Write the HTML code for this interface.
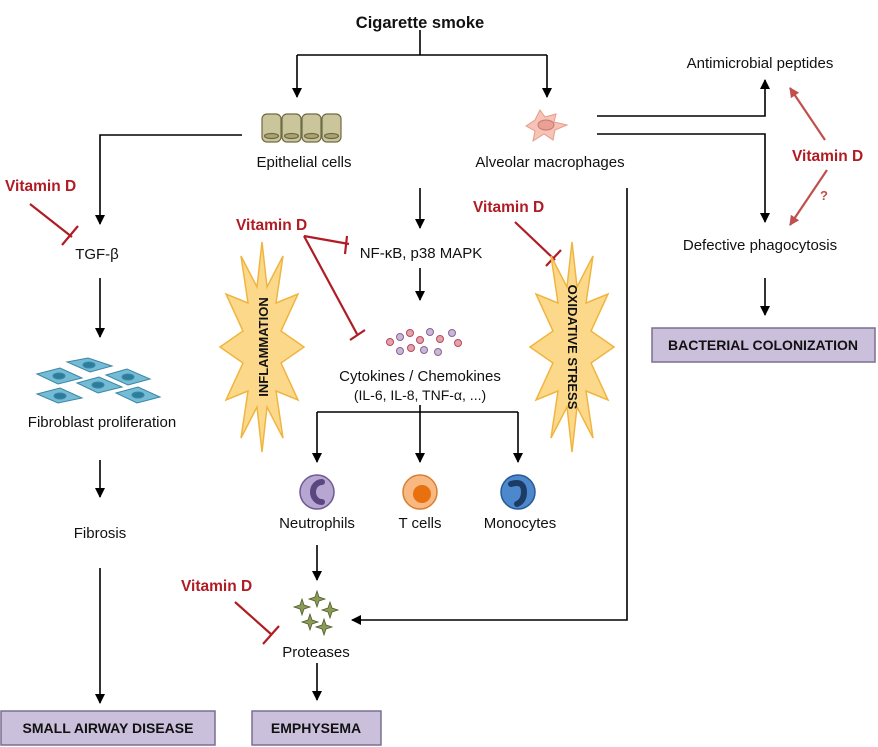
<!DOCTYPE html>
<html><head><meta charset="utf-8"><style>
html,body{margin:0;padding:0;background:#fff;}
svg{display:block;font-family:"Liberation Sans",sans-serif;}
.t{font-size:15px;fill:#111;text-anchor:middle;}
.v{font-size:15.5px;font-weight:bold;fill:#b01c24;}
.b{font-size:14px;font-weight:bold;fill:#111;text-anchor:middle;}
</style></head><body>
<svg width="878" height="747" viewBox="0 0 878 747" xmlns="http://www.w3.org/2000/svg">
<defs>
<marker id="a" markerWidth="10" markerHeight="10" refX="9" refY="5" orient="auto" markerUnits="userSpaceOnUse"><path d="M0,0 L10,5 L0,10 z" fill="#000"/></marker>
<marker id="r" markerWidth="10" markerHeight="10" refX="9" refY="5" orient="auto" markerUnits="userSpaceOnUse"><path d="M0,0 L10,5 L0,10 z" fill="#c0504d"/></marker>
<polygon id="burst" points="262,242 267,287 283,256 276,303 298,294 281,331 304,347 281,363 298,400 276,391 283,438 267,407 262,452 257,407 241,438 248,391 226,400 243,363 220,347 243,331 226,294 248,303 241,256 257,287" fill="#fcd98a" stroke="#f0b541" stroke-width="1.5"/>
</defs>
<g stroke="#000" stroke-width="1.6" fill="none">
<path d="M420,30 V55 M297,55 H547"/>
<path d="M297,55 V97" marker-end="url(#a)"/>
<path d="M547,55 V97" marker-end="url(#a)"/>
<path d="M242,135 H100 V224" marker-end="url(#a)"/>
<path d="M100,278 V337" marker-end="url(#a)"/>
<path d="M100,460 V497" marker-end="url(#a)"/>
<path d="M100,568 V703" marker-end="url(#a)"/>
<path d="M420,188 V228" marker-end="url(#a)"/>
<path d="M420,268 V300" marker-end="url(#a)"/>
<path d="M317,412 H518"/>
<path d="M317,412 V462" marker-end="url(#a)"/>
<path d="M420,405 V462" marker-end="url(#a)"/>
<path d="M518,412 V462" marker-end="url(#a)"/>
<path d="M317,545 V580" marker-end="url(#a)"/>
<path d="M317,663 V700" marker-end="url(#a)"/>
<path d="M627,188 V620 H352" marker-end="url(#a)"/>
<path d="M597,116 H765 V80" marker-end="url(#a)"/>
<path d="M597,134 H765 V222" marker-end="url(#a)"/>
<path d="M765,278 V315" marker-end="url(#a)"/>
</g>
<g stroke="#b01c24" stroke-width="2.2" fill="none">
<path d="M30,204 L72,237 M62,245 L78,226"/>
<path d="M304,236 L349,244 M347,236 L345,254"/>
<path d="M304,236 L357,334 M350,340 L365,330"/>
<path d="M515,222 L555,260 M546,266 L561,250"/>
<path d="M235,602 L272,635 M263,644 L279,626"/>
</g>
<g stroke="#c0504d" stroke-width="2.2">
<path d="M825,140 L790,88" marker-end="url(#r)"/>
<path d="M827,170 L790,225" marker-end="url(#r)"/>
</g>
<use href="#burst"/>
<use href="#burst" transform="translate(310,0)"/>
<text x="0" y="0" transform="translate(268,347) rotate(-90)" class="b" style="font-size:13px">INFLAMMATION</text>
<text x="0" y="0" transform="translate(568,347) rotate(90)" class="b" style="font-size:13px">OXIDATIVE STRESS</text>
<g fill="#cbc59c" stroke="#6f6a45" stroke-width="1.2">
<rect x="262" y="114" width="19" height="28" rx="5"/>
<rect x="282" y="114" width="19" height="28" rx="5"/>
<rect x="302" y="114" width="19" height="28" rx="5"/>
<rect x="322" y="114" width="19" height="28" rx="5"/>
<ellipse cx="271.5" cy="136" rx="7" ry="2.5" fill="#a9a273"/>
<ellipse cx="291.5" cy="136" rx="7" ry="2.5" fill="#a9a273"/>
<ellipse cx="311.5" cy="136" rx="7" ry="2.5" fill="#a9a273"/>
<ellipse cx="331.5" cy="136" rx="7" ry="2.5" fill="#a9a273"/>
</g>
<path d="M526,126 L535,120 L540,110 L545,117 L556,114 L554,122 L567,125 L555,130 L553,140 L544,134 L533,141 L535,131 Z" fill="#f6c3b6" stroke="#e59c8c"/>
<ellipse cx="546" cy="125" rx="8" ry="5" fill="#e9a095" stroke="#c77a70"/>
<g fill="#74bcd6" stroke="#3a86a6" stroke-width="1">
<path d="M67,362 L88,358 L112,366 L90,372 Z"/><ellipse cx="89" cy="365" rx="6" ry="3" fill="#2d7d9a"/>
<path d="M37,374 L60,368 L82,378 L58,384 Z"/><ellipse cx="59" cy="376" rx="6" ry="3" fill="#2d7d9a"/>
<path d="M106,375 L127,369 L150,379 L128,385 Z"/><ellipse cx="128" cy="377" rx="6" ry="3" fill="#2d7d9a"/>
<path d="M77,383 L99,377 L122,387 L98,393 Z"/><ellipse cx="98" cy="385" rx="6" ry="3" fill="#2d7d9a"/>
<path d="M37,394 L60,388 L82,398 L58,403 Z"/><ellipse cx="60" cy="396" rx="6" ry="3" fill="#2d7d9a"/>
<path d="M116,393 L138,387 L160,397 L137,403 Z"/><ellipse cx="138" cy="395" rx="6" ry="3" fill="#2d7d9a"/>
</g>
<g stroke-width="1">
<circle cx="390" cy="342" r="3.5" fill="#e0a6a6" stroke="#b46"/>
<circle cx="400" cy="337" r="3.5" fill="#c9b6dc" stroke="#868"/>
<circle cx="410" cy="333" r="3.5" fill="#e0a6a6" stroke="#b46"/>
<circle cx="420" cy="340" r="3.5" fill="#e0a6a6" stroke="#b46"/>
<circle cx="430" cy="332" r="3.5" fill="#c9b6dc" stroke="#868"/>
<circle cx="440" cy="339" r="3.5" fill="#e0a6a6" stroke="#b46"/>
<circle cx="452" cy="333" r="3.5" fill="#c9b6dc" stroke="#868"/>
<circle cx="400" cy="351" r="3.5" fill="#c9b6dc" stroke="#868"/>
<circle cx="411" cy="348" r="3.5" fill="#e0a6a6" stroke="#b46"/>
<circle cx="424" cy="350" r="3.5" fill="#c9b6dc" stroke="#868"/>
<circle cx="438" cy="352" r="3.5" fill="#c9b6dc" stroke="#868"/>
<circle cx="458" cy="343" r="3.5" fill="#e0a6a6" stroke="#b46"/>
</g>
<circle cx="317" cy="492" r="17" fill="#b7a5d2" stroke="#6d5a90" stroke-width="1.5"/>
<path d="M322,482 a9,10 0 1,0 0,20" fill="none" stroke="#5a4780" stroke-width="6" stroke-linecap="round"/>
<circle cx="420" cy="492" r="17" fill="#f8b882" stroke="#d87f30" stroke-width="1.5"/>
<circle cx="422" cy="494" r="9" fill="#e8700f"/>
<circle cx="518" cy="492" r="17" fill="#4e88cc" stroke="#245a98" stroke-width="1.5"/>
<path d="M511,484 q13,-4 13,8 q0,9 -7,12" fill="none" stroke="#1c3c66" stroke-width="6" stroke-linecap="round"/>
<g fill="#8c9c58" stroke="#4f5f2a" stroke-width="0.8">
<path d="M300,605 l2,-6 l2,6 l6,2 l-6,2 l-2,6 l-2,-6 l-6,-2z"/>
<path d="M315,597 l2,-6 l2,6 l6,2 l-6,2 l-2,6 l-2,-6 l-6,-2z"/>
<path d="M328,608 l2,-6 l2,6 l6,2 l-6,2 l-2,6 l-2,-6 l-6,-2z"/>
<path d="M308,620 l2,-6 l2,6 l6,2 l-6,2 l-2,6 l-2,-6 l-6,-2z"/>
<path d="M322,625 l2,-6 l2,6 l6,2 l-6,2 l-2,6 l-2,-6 l-6,-2z"/>
</g>
<g fill="#cbc0dc" stroke="#7a6f8f" stroke-width="1.5">
<rect x="1" y="711" width="214" height="34"/>
<rect x="252" y="711" width="129" height="34"/>
<rect x="652" y="328" width="223" height="34"/>
</g>
<text x="108" y="733" class="b">SMALL AIRWAY DISEASE</text>
<text x="316" y="733" class="b">EMPHYSEMA</text>
<text x="763" y="350" class="b">BACTERIAL COLONIZATION</text>
<text x="420" y="28" class="b" style="font-size:16.5px">Cigarette smoke</text>
<text x="304" y="167" class="t">Epithelial cells</text>
<text x="550" y="167" class="t">Alveolar macrophages</text>
<text x="760" y="68" class="t">Antimicrobial peptides</text>
<text x="760" y="250" class="t">Defective phagocytosis</text>
<text x="97" y="259" class="t">TGF-β</text>
<text x="102" y="427" class="t">Fibroblast proliferation</text>
<text x="100" y="538" class="t">Fibrosis</text>
<text x="421" y="258" class="t">NF-κB, p38 MAPK</text>
<text x="420" y="381" class="t">Cytokines / Chemokines</text>
<text x="420" y="400" class="t" style="font-size:14px">(IL-6, IL-8, TNF-α, ...)</text>
<text x="317" y="528" class="t">Neutrophils</text>
<text x="420" y="528" class="t">T cells</text>
<text x="520" y="528" class="t">Monocytes</text>
<text x="316" y="657" class="t">Proteases</text>
<text x="5" y="191" class="v">Vitamin D</text>
<text x="236" y="230" class="v">Vitamin D</text>
<text x="473" y="212" class="v">Vitamin D</text>
<text x="181" y="591" class="v">Vitamin D</text>
<text x="792" y="161" class="v">Vitamin D</text>
<text x="820" y="200" font-size="13" font-weight="bold" fill="#c0504d">?</text>
</svg>
</body></html>
